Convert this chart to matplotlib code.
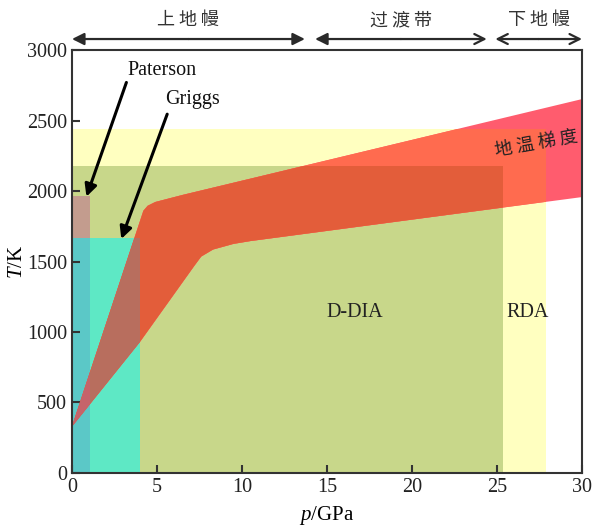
import numpy as np
import matplotlib.pyplot as plt
from matplotlib.patches import Rectangle

plt.rcParams['font.family'] = ['Liberation Serif', 'Noto Sans CJK SC']
plt.rcParams['mathtext.fontset'] = 'custom'
plt.rcParams['mathtext.it'] = 'Liberation Serif:italic'
plt.rcParams['mathtext.rm'] = 'Liberation Serif'

# Working ranges of each apparatus (p max in GPa, T max in K)
rda_p, rda_T = 27.9, 2440
ddia_p, ddia_T = 25.35, 2175
griggs_p, griggs_T = 4.0, 1670
paterson_p, paterson_T = 1.05, 1965

# Mantle geotherm band (upper and lower bounds)
geo_hi_p = [0, 4.2, 4.45, 4.9, 6.5, 30]
geo_hi_T = [330, 1860, 1895, 1922, 1972, 2652]
geo_lo_p = [0, 4.0, 7.2, 7.6, 8.3, 9.5, 10.5, 30]
geo_lo_T = [330, 930, 1470, 1535, 1585, 1625, 1645, 1957]

# Mantle layers along the pressure axis
layers = ['上地幔', '过渡带', '下地幔']
layer_from = [0, 14.3, 24.9]
layer_to = [13.7, 24.4, 30]

fig = plt.figure(figsize=(5.94, 5.26), dpi=100)
ax = fig.add_axes([0.1212, 0.1008, 0.8586, 0.8041])
ax.set_xlim(0, 30)
ax.set_ylim(0, 3000)

# apparatus boxes
ax.add_patch(Rectangle((0, 0), rda_p, rda_T, color='#FFFFC0', lw=0, zorder=1))
ax.add_patch(Rectangle((0, 0), ddia_p, ddia_T, color='#C8D78A', lw=0, zorder=1))
ax.add_patch(Rectangle((0, 0), griggs_p, griggs_T, color='#5EE8C5', lw=0, zorder=1))
ax.add_patch(Rectangle((0, 0), paterson_p, paterson_T, color='#C39C8E', lw=0, zorder=1))
ax.add_patch(Rectangle((0, 0), paterson_p, griggs_T, color='#5BC8C7', lw=0, zorder=1))

band_p = geo_hi_p + geo_lo_p[::-1]
band_T = geo_hi_T + geo_lo_T[::-1]


def draw_band(color, box=None):
    patch = ax.fill(band_p, band_T, color=color, lw=0, zorder=3)[0]
    if box is not None:
        clip = Rectangle((0, 0), box[0], box[1], transform=ax.transData)
        patch.set_clip_path(clip)


draw_band('#FF5C6E')
draw_band('#FF6B4F', (rda_p, rda_T))
draw_band('#E35D3A', (ddia_p, ddia_T))
draw_band('#B86E5E', (griggs_p, griggs_T))
draw_band('#C6636A', (paterson_p, griggs_T))

cjk = ['Noto Sans CJK SC']
ax.text(27.3, 2335, '地 温 梯 度', rotation=10, ha='center', va='center',
        fontsize=13, family=cjk, color='#222222', zorder=5)
ax.text(16.65, 1135, 'D-DIA', ha='center', va='center', fontsize=14.5, color='#222222', zorder=5)
ax.text(26.8, 1135, 'RDA', ha='center', va='center', fontsize=14.5, color='#222222', zorder=5)

# Paterson / Griggs pointers
ax.text(5.3, 2858, 'Paterson', ha='center', va='center', fontsize=14.5, color='#111111', zorder=6)
ax.annotate('', xy=(0.85, 1960), xytext=(3.2, 2770),
            arrowprops=dict(arrowstyle='-|>', lw=2.2, color='black',
                            mutation_scale=18, shrinkA=0, shrinkB=0), zorder=6)
ax.text(7.1, 2652, 'Griggs', ha='center', va='center', fontsize=14.5, color='#111111', zorder=6)
ax.annotate('', xy=(2.9, 1660), xytext=(5.6, 2545),
            arrowprops=dict(arrowstyle='-|>', lw=2.2, color='black',
                            mutation_scale=18, shrinkA=0, shrinkB=0), zorder=6)

# mantle layer arrows above the plot
arrow_T = 3078
head_l = ['-|>', '-|>', '->']
head_r = ['-|>', '->', '->']
for name, a, b, hl, hr in zip(layers, layer_from, layer_to, head_l, head_r):
    mid = (a + b) / 2
    for end, hs in ((a, hl), (b, hr)):
        ax.annotate('', xy=(end, arrow_T), xytext=(mid, arrow_T), annotation_clip=False,
                    arrowprops=dict(arrowstyle=hs, lw=1.6, color='#2a2a2a',
                                    mutation_scale=18, shrinkA=0, shrinkB=0))
    ax.text(mid, 3212, ' '.join(name), ha='center', va='center', fontsize=13,
            family=cjk, color='#333333', clip_on=False)

ax.set_xticks(np.arange(0, 31, 5))
ax.set_yticks(np.arange(0, 3001, 500))
ax.tick_params(direction='in', length=6, width=1.5, labelsize=14.5, colors='#333333',
               labelcolor='#222222')
for s in ax.spines.values():
    s.set_linewidth(1.5)
    s.set_color('#333333')
    s.set_zorder(7)

ax.set_xlabel('$p$/GPa', fontsize=15, labelpad=5)
ax.set_ylabel('$T$/K', fontsize=15)
ax.yaxis.set_label_coords(-0.088, 0.5)

fig.savefig('out.png', dpi=100)
